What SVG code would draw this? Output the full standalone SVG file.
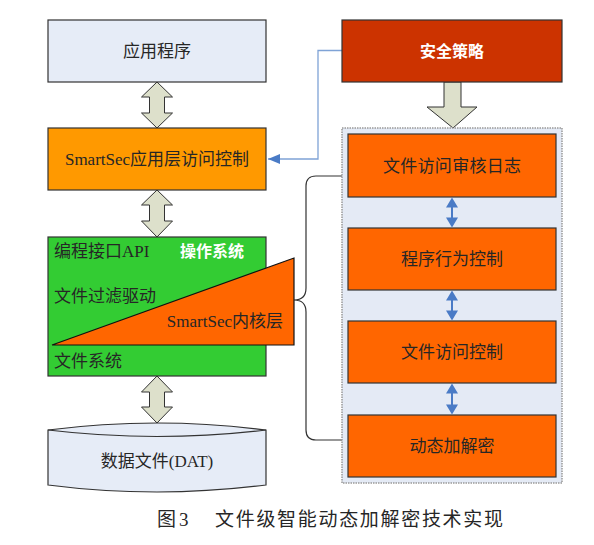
<svg xmlns="http://www.w3.org/2000/svg" width="594" height="545" viewBox="0 0 594 545">
<defs>
<style>
text{font-family:"Liberation Serif","Noto Sans CJK SC",serif;font-size:17px;fill:#262626}
.c{text-anchor:middle}
.w{fill:#fff;font-weight:bold;font-family:"Noto Sans CJK SC","Liberation Sans",sans-serif;font-size:16px}
.box{stroke:#333;stroke-width:1.2}
.dbl{fill:#DDE0CB;stroke:#333;stroke-width:1}
.sm{fill:#4A7BC6}
</style>
<marker id="ah" markerWidth="12" markerHeight="10" refX="12" refY="5" orient="auto" markerUnits="userSpaceOnUse">
<path d="M0,0 L12,5 L0,10 Z" fill="#4A7BC6"/>
</marker>
</defs>
<rect width="594" height="545" fill="#fff"/>

<g id="connectors">
<polygon class="dbl" points="157,82 172.5,97 164.5,97 164.5,113 172.5,113 157,128 141.5,113 149.5,113 149.5,97 141.5,97"/>
<polygon class="dbl" points="157,190 172.5,205 164.5,205 164.5,221 172.5,221 157,237 141.5,221 149.5,221 149.5,205 141.5,205"/>
<polygon class="dbl" points="157,376 172.5,392 164.5,392 164.5,407 172.5,407 157,423 141.5,407 149.5,407 149.5,392 141.5,392"/>
<polygon class="dbl" points="444,82 461,82 461,107 477,107 453,128 427,107 444,107"/>
<polyline points="342,50.5 318,50.5 318,159 268,159" fill="none" stroke="#7FA3D6" stroke-width="1.3" marker-end="url(#ah)"/>
<path d="M342,176 L316,176 Q306,176 306,186 L306,288 Q306,300 294,300 Q306,300 306,312 L306,430 Q306,440 316,440 L342,440" fill="none" stroke="#333" stroke-width="1.2"/>
</g>

<g id="app">
<rect class="box" x="48" y="20" width="218" height="62" fill="#E6ECF7" stroke="#666"/>
<text class="c" x="157" y="57">应用程序</text>
</g>

<g id="smartsec-app">
<rect class="box" x="48" y="128" width="218" height="62" fill="#FF9900"/>
<text class="c" x="157" y="165">SmartSec应用层访问控制</text>
</g>

<g id="os">
<rect class="box" x="48" y="237" width="218" height="139" fill="#33CC33"/>
<polygon points="52,345 294,258 294,345" fill="#FF6600" stroke="#111" stroke-width="1.2"/>
<text x="54" y="257">编程接口API</text>
<text class="w" x="180" y="257">操作系统</text>
<text x="54" y="302">文件过滤驱动</text>
<text x="283" y="327" text-anchor="end">SmartSec内核层</text>
<text x="54" y="367">文件系统</text>
</g>

<g id="data">
<path d="M48,430 Q157,416 266,430 L266,485 Q157,499 48,485 Z" fill="#E6ECF7" stroke="#333" stroke-width="1.2"/>
<path d="M48,430 Q157,443 266,430" fill="none" stroke="#333" stroke-width="1.2"/>
<text class="c" x="157" y="467">数据文件(DAT)</text>
</g>

<g id="policy">
<rect class="box" x="342" y="20" width="220" height="62" fill="#CC3300"/>
<text class="c w" x="452" y="57">安全策略</text>
</g>

<g id="container">
<rect x="342" y="128" width="220" height="355" fill="#E4EAF5" stroke="#999" stroke-width="1.5" stroke-dasharray="1.5,1"/>
</g>

<g id="audit">
<rect class="box" x="348" y="134" width="208" height="63" fill="#FF6600"/>
<text class="c" x="452" y="172" textLength="138">文件访问审核日志</text>
</g>
<g id="behavior">
<rect class="box" x="348" y="228" width="208" height="62" fill="#FF6600"/>
<text class="c" x="452" y="265">程序行为控制</text>
</g>
<g id="fileaccess">
<rect class="box" x="348" y="321" width="208" height="62" fill="#FF6600"/>
<text class="c" x="452" y="358">文件访问控制</text>
</g>
<g id="crypto">
<rect class="box" x="348" y="415" width="208" height="62" fill="#FF6600"/>
<text class="c" x="452" y="452">动态加解密</text>
</g>

<g id="small-arrows">
<path class="sm" d="M452,197.5 L458,207.5 L453,207.5 L453,217.5 L458,217.5 L452,227.5 L446,217.5 L451,217.5 L451,207.5 L446,207.5 Z"/>
<path class="sm" d="M452,290.5 L458,300.5 L453,300.5 L453,310.5 L458,310.5 L452,320.5 L446,310.5 L451,310.5 L451,300.5 L446,300.5 Z"/>
<path class="sm" d="M452,383.5 L458,393.5 L453,393.5 L453,404.5 L458,404.5 L452,414.5 L446,404.5 L451,404.5 L451,393.5 L446,393.5 Z"/>
</g>

<text x="157" y="526" style="font-size:19px">图</text>
<text x="179" y="526" style="font-size:19px">3</text>
<text x="215" y="526" style="font-size:19px" textLength="288">文件级智能动态加解密技术实现</text>
</svg>
